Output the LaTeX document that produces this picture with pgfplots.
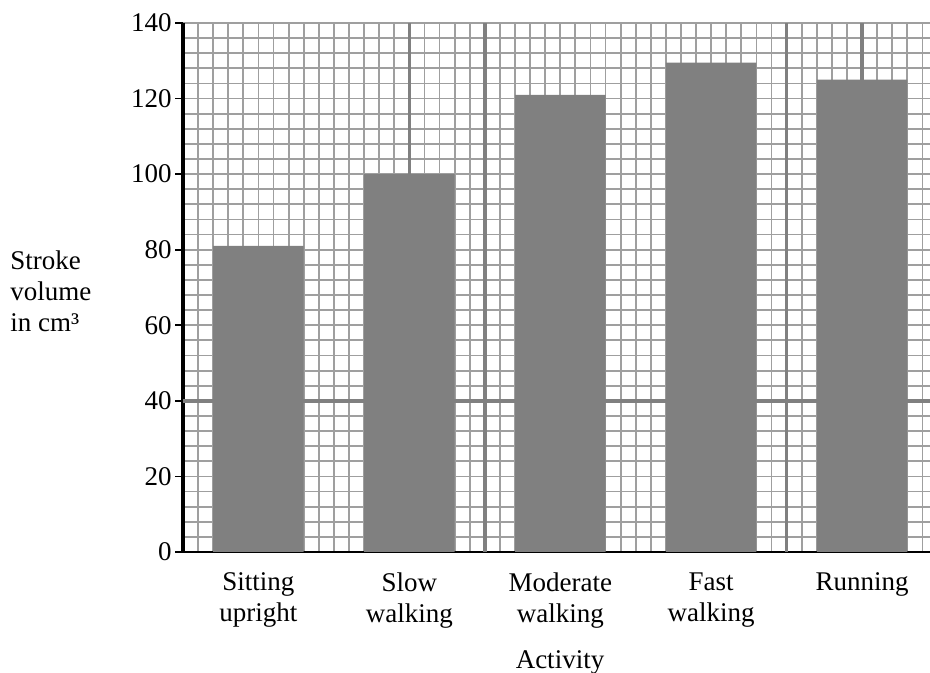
\documentclass[border=0pt]{standalone}
\usepackage{fontspec}
\setmainfont{Liberation Serif}
\usepackage{pgfplots}
\pgfplotsset{compat=1.18}

\begin{document}
\fontsize{13.5}{15.5}\selectfont
\begin{tikzpicture}
\begin{axis}[
    scale only axis,
    width=373.5pt,
    height=264.5pt,
    xmin=0, xmax=49.5,
    ymin=0, ymax=140,
    axis x line*=bottom,
    axis y line*=left,
    axis line style={-},
    x axis line style={black, line width=0.9pt},
    y axis line style={black, line width=1.6pt},
    xtick={5,15,25,35,45},
    xticklabels={{Sitting\\upright},{Slow\\walking},{Moderate\\walking},{Fast\\walking},{Running}},
    xticklabel style={align=center, yshift=-1.5pt},
    x tick style={draw=none},
    ytick={0,20,...,140},
    y tick style={black, line width=0.9pt},
    yticklabel style={inner xsep=1.5pt},
    tick align=outside,
    major tick length=4pt,
    minor tick length=0pt,
    minor xtick={0,1,...,49},
    minor ytick={0,4,...,140},
    xminorgrids=true,
    yminorgrids=true,
    minor grid style={gray!75, line width=0.9pt},
    major grid style={gray, line width=1.8pt},
    extra x ticks={15,20,40,45},
    extra x tick labels={},
    extra x tick style={xmajorgrids=true, major tick length=0pt},
    extra y ticks={40},
    extra y tick labels={},
    extra y tick style={ymajorgrids=true, major tick length=0pt},
    /pgf/number format/assume math mode=true,
    tick label style={font=\fontsize{13.5}{15.5}\selectfont},
]
\addplot[ybar, bar width=6, fill=gray, draw=none]
    coordinates {(5,81) (15,100) (25,121) (35,129.5) (45,125)};
\end{axis}
\node[anchor=west, align=left, inner sep=0pt] at ([xshift=-86.5pt,yshift=-2pt]current axis.west)
    {Stroke\\volume\\in cm³};
\node[anchor=base] at ([xshift=1.75pt,yshift=-58.5pt]current axis.south) {Activity};
\pgfresetboundingbox
\path[use as bounding box] ([xshift=-91.5pt,yshift=-60.5pt]current axis.south west)
    rectangle ([yshift=11.5pt]current axis.north east);
\end{tikzpicture}
\end{document}
